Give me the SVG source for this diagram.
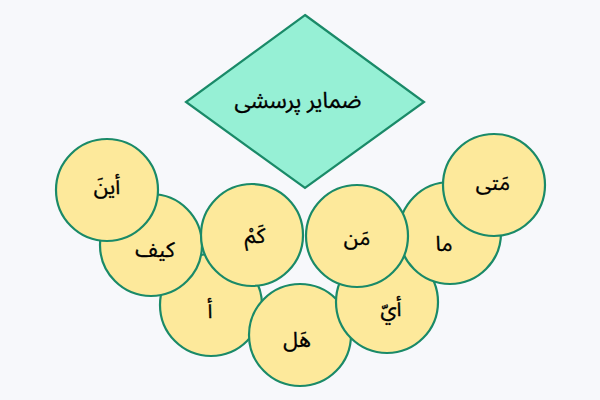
<svg xmlns="http://www.w3.org/2000/svg" width="600" height="400" viewBox="0 0 600 400">
<style>
.bg{fill:#f7f8fb}
.c{fill:#fde99b;stroke:#1a8a68;stroke-width:2.2}
.d{fill:#96f0d5;stroke:#1a8a68;stroke-width:2.2}
text{font-family:"Noto Sans Arabic","Noto Sans","DejaVu Sans",sans-serif;fill:#000;stroke:#000;stroke-width:0.35;text-anchor:middle;dominant-baseline:central}
.t{font-size:21px}
.h{font-size:22px}
</style>
<rect class="bg" width="600" height="400"/>
<g id="connectors"></g>
<g id="root"><polygon class="d" points="305,15 424,102 305,188 186,102"/><text class="h" x="298" y="101" direction="rtl">ضمایر پرسشی</text></g>
<g id="n-a"><circle class="c" cx="211" cy="305" r="51"/><text class="t" x="210" y="311">أ</text></g>
<g id="n-hal"><circle class="c" cx="300" cy="335" r="51"/><text class="t" x="297" y="340">هَل</text></g>
<g id="n-ayy"><circle class="c" cx="387" cy="302" r="51"/><text class="t" x="391" y="309">أيّ</text></g>
<g id="n-kayf"><circle class="c" cx="151" cy="245" r="51"/><text class="t" x="155" y="250">كيف</text></g>
<g id="n-ma"><circle class="c" cx="450" cy="233" r="51"/><text class="t" x="444" y="244">ما</text></g>
<g id="n-ayna"><circle class="c" cx="107" cy="190" r="51"/><text class="t" x="107" y="187">أينَ</text></g>
<g id="n-kam"><circle class="c" cx="252" cy="235" r="51"/><text class="t" x="255" y="236">كَمْ</text></g>
<g id="n-man"><circle class="c" cx="357" cy="236" r="51"/><text class="t" x="357" y="238">مَن</text></g>
<g id="n-mata"><circle class="c" cx="494" cy="185" r="51"/><text class="t" x="493" y="183">مَتى</text></g>
</svg>
